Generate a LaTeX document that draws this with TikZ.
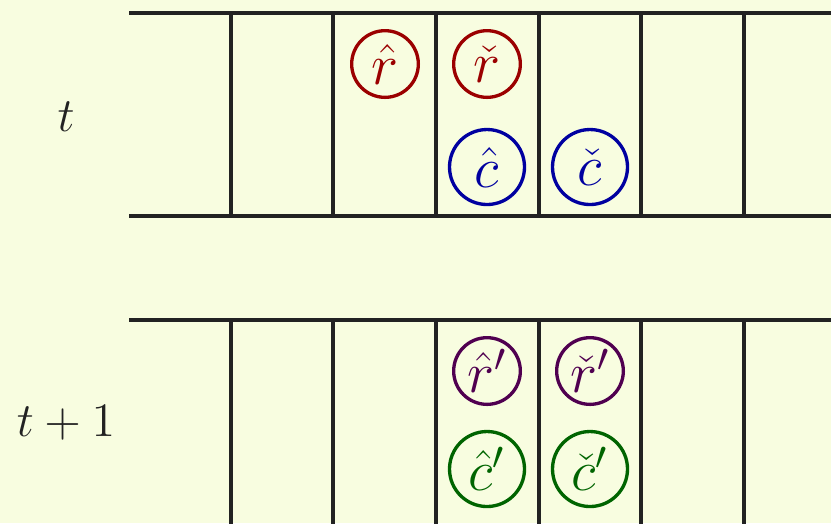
\documentclass[tikz,border=0pt]{standalone}
\usepackage{amsmath}
\definecolor{bg}{RGB}{248,253,224}
\definecolor{lin}{RGB}{34,34,34}
\definecolor{cred}{RGB}{155,0,0}
\definecolor{cblue}{RGB}{0,0,160}
\definecolor{cpurp}{RGB}{80,0,80}
\definecolor{cgreen}{RGB}{0,100,0}
\begin{document}
\begin{tikzpicture}[x=0.3pt,y=-0.3pt,
  grid/.style={draw=lin,line width=1pt},
  small/.style={circle,line width=1pt,minimum size=20pt,inner sep=0pt,font=\fontsize{17}{20}\selectfont},
  big/.style={circle,line width=1pt,minimum size=22.5pt,inner sep=0pt,font=\fontsize{17}{20}\selectfont},
  lab/.style={text=lin,font=\fontsize{15.5}{18}\selectfont}]
\fill[bg] (0,0) rectangle (831,523);
\useasboundingbox (0,0) rectangle (831,523);
% top band
\draw[grid] (129,13) -- (831,13);
\draw[grid] (129,216) -- (831,216);
\foreach \x in {231,333,436,539,641,744}{\draw[grid] (\x,13) -- (\x,216);}
% bottom band
\draw[grid] (129,320) -- (831,320);
\foreach \x in {231,333,436,539,641,744}{\draw[grid] (\x,320) -- (\x,530);}
% labels
\node[lab] (lt) at (66,117) {$t$};
\node[lab] (lt1) at (66,423) {$t+1$};
% circles top
\node[small,draw=cred,text=cred] (rh) at (385,64) {$\hat{r}$};
\node[small,draw=cred,text=cred] (rc) at (487,64) {$\check{r}$};
\node[big,draw=cblue,text=cblue] (ch) at (487,167) {$\hat{c}$};
\node[big,draw=cblue,text=cblue] (cc) at (590,167) {$\check{c}$};
% circles bottom
\node[small,draw=cpurp,text=cpurp] (rhp) at (487,371) {$\hat{r}'$};
\node[small,draw=cpurp,text=cpurp] (rcp) at (590,371) {$\check{r}'$};
\node[big,draw=cgreen,text=cgreen] (chp) at (487,469) {$\hat{c}'$};
\node[big,draw=cgreen,text=cgreen] (ccp) at (590,469) {$\check{c}'$};
\end{tikzpicture}
\end{document}
